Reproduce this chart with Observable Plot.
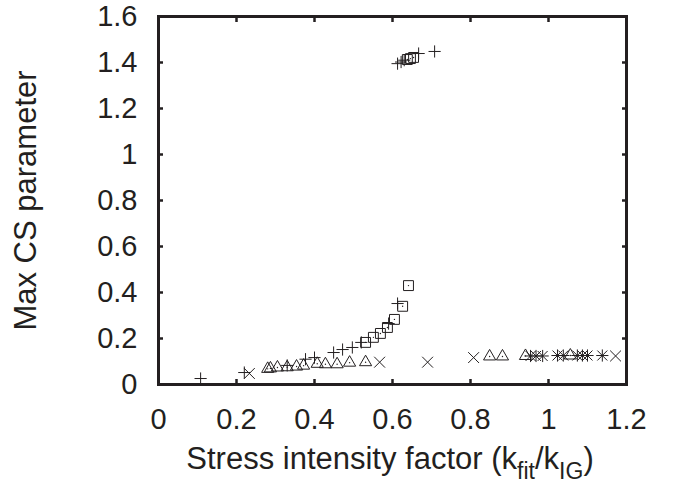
<!DOCTYPE html>
<html><head><meta charset="utf-8">
<script src="https://cdn.jsdelivr.net/npm/d3@7"></script>
<script src="https://cdn.jsdelivr.net/npm/@observablehq/plot@0.6"></script>
<style>body{margin:0;background:#fff;} #chart svg{display:block;}</style>
</head><body><div id="chart"></div>
<script>
// data series: [x, y]
const plusPts = [[0.108,0.026],[0.22,0.052],[0.33,0.083],[0.377,0.11],[0.40,0.117],[0.449,0.139],[0.472,0.152],[0.497,0.161],[0.52,0.183],[0.59,0.265],[0.613,0.352],[0.613,1.395],[0.622,1.402],[0.63,1.41],[0.667,1.439],[0.708,1.448]];
const squarePts = [[0.531,0.183],[0.551,0.205],[0.569,0.222],[0.587,0.248],[0.605,0.283],[0.626,0.34],[0.641,0.43],[0.638,1.413],[0.646,1.417],[0.654,1.422]];
const crossPts = [[0.233,0.048],[0.567,0.097],[0.69,0.097],[0.808,0.117],[1.172,0.124]];
const trianglePts = [[0.28,0.068],[0.287,0.07],[0.305,0.074],[0.33,0.075],[0.354,0.078],[0.372,0.082],[0.407,0.09],[0.428,0.088],[0.458,0.088],[0.49,0.095],[0.531,0.097],[0.849,0.122],[0.882,0.122],[0.941,0.124],[1.056,0.126]];
const starPts = [[0.954,0.124],[0.968,0.124],[0.985,0.124],[1.023,0.126],[1.038,0.126],[1.074,0.126],[1.087,0.126],[1.10,0.126],[1.138,0.126]];

const xTicks = [0, 0.2, 0.4, 0.6, 0.8, 1, 1.2];
const xTickLabels = ["0", "0.2", "0.4", "0.6", "0.8", "1", "1.2"];
const yTicks = [0, 0.2, 0.4, 0.6, 0.8, 1, 1.2, 1.4, 1.6];
const yTickLabels = ["0", "0.2", "0.4", "0.6", "0.8", "1", "1.2", "1.4", "1.6"];
const yLabel = "Max CS parameter";

const ink = "#231f20";
const font = "Liberation Sans, Arial, Helvetica, sans-serif";
const fs = 29;   // tick labels
const lfs = 31;  // axis labels

const chart = Plot.plot({
  width: 674,
  height: 485,
  marginLeft: 158,
  marginRight: 48,
  marginTop: 16,
  marginBottom: 101,
  style: {fontFamily: font, background: "#fff", color: ink},
  x: {domain: [0, 1.2]},
  y: {domain: [0, 1.6]},
  marks: [
    Plot.axisX(xTicks, {anchor: "bottom", tickSize: -5, tickPadding: 29, strokeWidth: 2.5, fontSize: fs, fill: ink,
      tickFormat: d => xTickLabels[xTicks.indexOf(d)], label: null}),
    Plot.axisX(xTicks, {anchor: "top", tickSize: -5, strokeWidth: 2.5, tickFormat: () => "", label: null}),
    Plot.axisY(yTicks, {anchor: "left", tickSize: -5, tickPadding: 26, strokeWidth: 2.5, fontSize: fs, fill: ink,
      tickFormat: d => yTickLabels[yTicks.indexOf(d)], label: null}),
    Plot.axisY(yTicks, {anchor: "right", tickSize: -5, strokeWidth: 2.5, tickFormat: () => "", label: null}),
    Plot.frame({stroke: ink, strokeWidth: 3}),
    Plot.text([yLabel], {frameAnchor: "left", dx: -132, rotate: -90, textAnchor: "middle", lineAnchor: "middle", fontSize: lfs, fill: ink, text: d => d}),
    Plot.dot(plusPts, {x: d => d[0], y: d => d[1], symbol: "plus", r: 4, stroke: ink, strokeWidth: 1}),
    Plot.dot(squarePts, {x: d => d[0], y: d => d[1], symbol: "square2", r: 6.3, stroke: ink, strokeWidth: 1}),
    Plot.dot(squarePts, {x: d => d[0], y: d => d[1], r: 0.7, fill: ink, stroke: null}),
    Plot.dot(crossPts, {x: d => d[0], y: d => d[1], symbol: "times", r: 5, stroke: ink, strokeWidth: 1}),
    Plot.dot(trianglePts, {x: d => d[0], y: d => d[1], symbol: "triangle2", r: 5.8, stroke: ink, strokeWidth: 1}),
    Plot.dot(trianglePts, {x: d => d[0], y: d => d[1], r: 0.7, fill: ink, stroke: null}),
    Plot.dot(starPts, {x: d => d[0], y: d => d[1], symbol: "plus", r: 4, stroke: ink, strokeWidth: 1}),
    Plot.dot(starPts, {x: d => d[0], y: d => d[1], symbol: "times", r: 4.6, stroke: ink, strokeWidth: 1})
  ]
});

// x-axis label with subscripts
const sx = chart.scale("x");
const svg = d3.select(chart);
const xl = svg.append("text")
  .attr("x", (sx.apply(0) + sx.apply(1.2)) / 2 - 2)
  .attr("y", 469)
  .attr("text-anchor", "middle")
  .attr("font-family", font)
  .attr("font-size", lfs)
  .attr("fill", ink);
xl.append("tspan").text("Stress intensity factor (k");
xl.append("tspan").attr("dy", 10).attr("font-size", 23).text("fit");
xl.append("tspan").attr("dy", -10).text("/k");
xl.append("tspan").attr("dy", 10).attr("font-size", 23).text("IG");
xl.append("tspan").attr("dy", -10).text(")");

document.getElementById("chart").append(chart);
</script>
</body></html>
